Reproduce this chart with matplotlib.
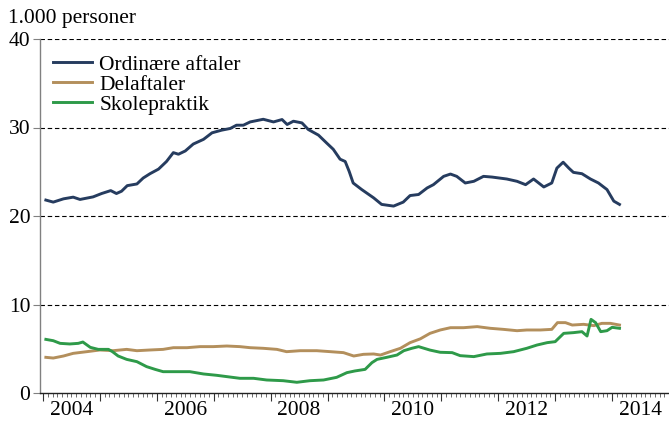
import matplotlib
matplotlib.use("Agg")
import matplotlib.pyplot as plt
import numpy as np

# ---- data (x in decimal years) ----
ord_x = [2004.05, 2004.18, 2004.36, 2004.53, 2004.65, 2004.88, 2005.03, 2005.19, 2005.29, 2005.38,
         2005.48, 2005.65, 2005.76, 2005.88, 2006.03, 2006.17, 2006.29, 2006.38, 2006.50, 2006.64,
         2006.82, 2006.97, 2007.14, 2007.29, 2007.40, 2007.52, 2007.64, 2007.87, 2008.05, 2008.20,
         2008.29, 2008.40, 2008.55, 2008.66, 2008.84, 2008.99, 2009.10, 2009.22, 2009.31, 2009.38,
         2009.45, 2009.60, 2009.81, 2009.95, 2010.16, 2010.33, 2010.45, 2010.60, 2010.75, 2010.86,
         2011.04, 2011.16, 2011.27, 2011.42, 2011.57, 2011.74, 2011.89, 2012.15, 2012.33, 2012.48,
         2012.62, 2012.80, 2012.94, 2013.03, 2013.14, 2013.24, 2013.32, 2013.47, 2013.62, 2013.76,
         2013.91, 2014.03, 2014.13]
ord_y = [21.8, 21.57, 21.94, 22.13, 21.87, 22.16, 22.54, 22.87, 22.54, 22.8,
         23.43, 23.62, 24.29, 24.78, 25.3, 26.16, 27.16, 26.98, 27.35, 28.13,
         28.66, 29.4, 29.7, 29.89, 30.26, 30.26, 30.63, 30.93, 30.63, 30.9,
         30.34, 30.71, 30.52, 29.78, 29.14, 28.21, 27.54, 26.42, 26.16, 25.04,
         23.73, 22.99, 22.05, 21.31, 21.12, 21.57, 22.31, 22.43, 23.17, 23.54,
         24.48, 24.74, 24.48, 23.73, 23.92, 24.48, 24.4, 24.18, 23.92, 23.54,
         24.18, 23.28, 23.73, 25.41, 26.08, 25.41, 24.93, 24.78, 24.18, 23.73,
         22.99, 21.68, 21.31]

del_x = [2004.05, 2004.18, 2004.36, 2004.53, 2004.77, 2005.00, 2005.23, 2005.47, 2005.65, 2005.88,
         2006.11, 2006.29, 2006.53, 2006.76, 2006.99, 2007.23, 2007.46, 2007.64, 2007.87, 2008.11,
         2008.28, 2008.52, 2008.81, 2009.05, 2009.28, 2009.46, 2009.63, 2009.81, 2009.93, 2010.10,
         2010.28, 2010.45, 2010.63, 2010.80, 2010.98, 2011.16, 2011.39, 2011.63, 2011.86, 2012.09,
         2012.33, 2012.50, 2012.74, 2012.94, 2013.04, 2013.18, 2013.30, 2013.50, 2013.68, 2013.82,
         2013.97, 2014.13]
del_y = [4.03, 3.95, 4.18, 4.48, 4.67, 4.86, 4.78, 4.93, 4.78, 4.86,
         4.93, 5.12, 5.12, 5.24, 5.24, 5.31, 5.24, 5.12, 5.05, 4.93,
         4.67, 4.78, 4.78, 4.67, 4.56, 4.18, 4.37, 4.41, 4.29, 4.67,
         5.05, 5.69, 6.12, 6.74, 7.12, 7.38, 7.38, 7.5, 7.31, 7.19,
         7.04, 7.12, 7.12, 7.19, 7.95, 7.95, 7.68, 7.76, 7.61, 7.87,
         7.87, 7.68]

sko_x = [2004.05, 2004.18, 2004.30, 2004.47, 2004.62, 2004.70, 2004.83, 2004.97, 2005.15, 2005.22,
         2005.32, 2005.47, 2005.65, 2005.82, 2005.97, 2006.11, 2006.35, 2006.58, 2006.82, 2007.05,
         2007.23, 2007.46, 2007.70, 2007.93, 2008.22, 2008.46, 2008.69, 2008.93, 2009.16, 2009.34,
         2009.48, 2009.66, 2009.78, 2009.87, 2010.04, 2010.22, 2010.34, 2010.48, 2010.60, 2010.80,
         2010.98, 2011.19, 2011.33, 2011.57, 2011.80, 2012.04, 2012.27, 2012.50, 2012.68, 2012.86,
         2013.00, 2013.15, 2013.32, 2013.47, 2013.56, 2013.63, 2013.71, 2013.80, 2013.91, 2014.00,
         2014.13]
sko_y = [6.06, 5.91, 5.61, 5.54, 5.61, 5.76, 5.16, 4.93, 4.93, 4.67,
         4.18, 3.8, 3.54, 2.98, 2.67, 2.41, 2.41, 2.41, 2.15, 2.0,
         1.85, 1.66, 1.66, 1.47, 1.39, 1.21, 1.39, 1.47, 1.77, 2.3,
         2.49, 2.67, 3.43, 3.8, 4.03, 4.29, 4.78, 5.05, 5.24, 4.85,
         4.6, 4.56, 4.22, 4.11, 4.41, 4.48, 4.67, 5.05, 5.42, 5.69,
         5.8, 6.74, 6.82, 6.93, 6.44, 8.32, 7.95, 6.93, 7.04, 7.42,
         7.31]

series_labels = ["Ordinære aftaler", "Delaftaler", "Skolepraktik"]
year_labels = [2004, 2006, 2008, 2010, 2012, 2014]
y_ticks = [0, 10, 20, 30, 40]

# ---- style ----
plt.rcParams['font.family'] = ['Liberation Serif', 'DejaVu Serif']
FS = 15.5

W, H = 669, 424
fig = plt.figure(figsize=(W / 100, H / 100), dpi=100)
ax = fig.add_axes([40 / W, (H - 393) / H, (W - 40) / W, (393 - 39) / H])

c_ord = "#263C5F"
c_del = "#B38F5C"
c_sko = "#2E9A49"

for yv in y_ticks[1:]:
    ax.axhline(yv, color="black", lw=0.8, ls=(0, (4, 2.5)), zorder=1)

ax.plot(ord_x, ord_y, color=c_ord, lw=2.1, label=series_labels[0], zorder=3)
ax.plot(del_x, del_y, color=c_del, lw=2.1, label=series_labels[1], zorder=3)
ax.plot(sko_x, sko_y, color=c_sko, lw=2.1, label=series_labels[2], zorder=4)

ax.set_xlim(2003.947, 2015.0)
ax.set_ylim(0, 40)

# ticks
ax.set_yticks(y_ticks)
ax.set_yticklabels([str(v) for v in y_ticks], fontsize=FS)
years = np.arange(2004, 2015)
ax.set_xticks(years)
ax.set_xticklabels([""] * len(years))
months = np.arange(2004, 2015, 1 / 12)
ax.set_xticks(months, minor=True)
ax.tick_params(axis="x", which="major", direction="out", length=6, width=0.8, color="#333333")
ax.tick_params(axis="x", which="minor", direction="out", length=3, width=0.6, color="#555555")
ax.tick_params(axis="y", which="major", direction="out", length=5, width=0.8, color="#808080", pad=2)

for yr in year_labels:
    ax.text(yr + 0.5, -0.022, str(yr), transform=ax.get_xaxis_transform(),
            ha="center", va="top", fontsize=FS)

for s in ["top", "right"]:
    ax.spines[s].set_visible(False)
ax.spines["left"].set_color("#808080")
ax.spines["left"].set_linewidth(1.0)
ax.spines["bottom"].set_color("#222222")
ax.spines["bottom"].set_linewidth(1.0)

fig.text(8 / W, 1 - 18 / H, "1.000 personer", fontsize=FS, ha="left", va="center")

leg = ax.legend(loc="upper left", bbox_to_anchor=(0.017, 0.962), frameon=False,
                fontsize=FS, handlelength=1.8, handletextpad=0.35, labelspacing=0.0,
                borderaxespad=0.0, borderpad=0.1)

fig.savefig("out.png", dpi=100)
